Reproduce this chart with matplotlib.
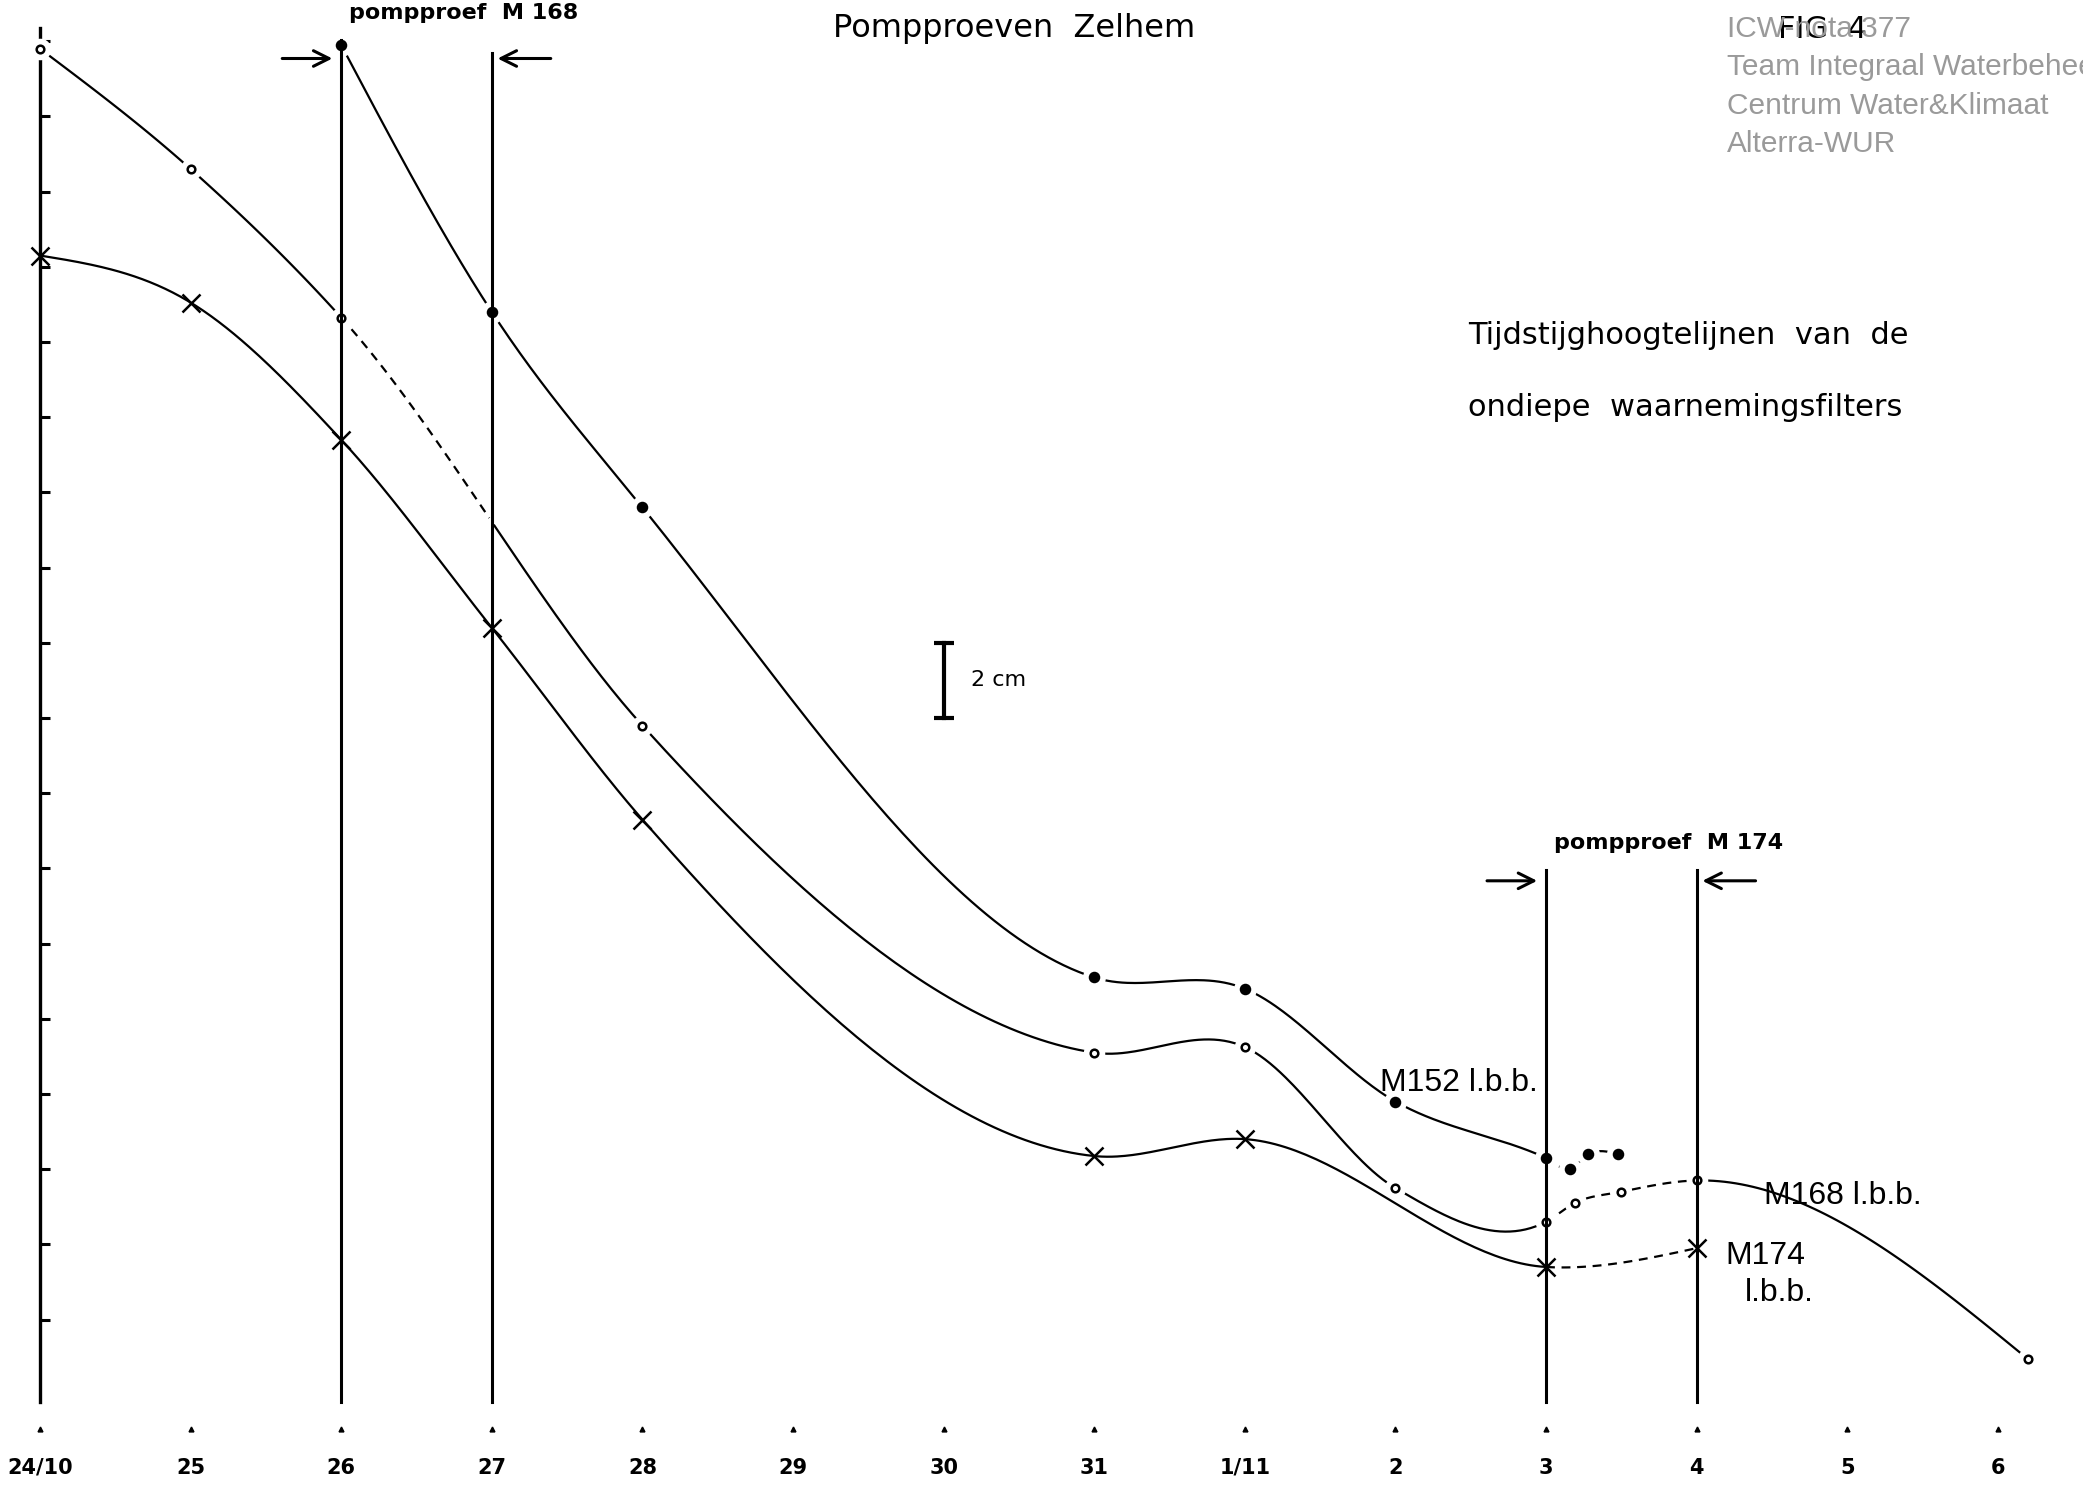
import matplotlib
matplotlib.use("Agg")
import matplotlib.pyplot as plt
import numpy as np

# datums langs de tijdas (dag 0 = 24 oktober)
days = ["24/10", "25", "26", "27", "28", "29", "30", "31", "1/11", "2", "3", "4", "5", "6"]

# stijghoogte in cm t.o.v. bovenkant schaal (negatief = dieper)
m152_t = [2, 3, 4, 7, 8, 9, 10, 10.16, 10.28, 10.48]
m152_h = [-0.1, -7.2, -12.4, -24.9, -25.2, -28.2, -29.7, -30.0, -29.6, -29.6]

m168_t = [0, 1, 2, 4, 7, 8, 9, 10, 10.19, 10.5, 11, 13.2]
m168_h = [-0.2, -3.4, -7.35, -18.2, -26.9, -26.75, -30.5, -31.4, -30.9, -30.6, -30.3, -35.05]

m174_t = [0, 1, 2, 3, 4, 7, 8, 10, 11]
m174_h = [-5.7, -6.95, -10.6, -15.6, -20.7, -29.65, -29.2, -32.6, -32.1]

# pompproeven (begin, eind) in dagen
pomp_m168 = (2, 3)
pomp_m174 = (10, 11)

W, H = 2083, 1488


def smooth(t, h, n=60):
    # cubic hermite door de meetpunten, parabolische eindcondities
    t = np.asarray(t, float)
    h = np.asarray(h, float)
    dt = np.diff(t)
    d = np.diff(h) / dt
    m = np.empty_like(h)
    m[1:-1] = (d[:-1] * dt[1:] + d[1:] * dt[:-1]) / (dt[1:] + dt[:-1])
    m[0] = (3 * d[0] - m[1]) / 2
    m[-1] = (3 * d[-1] - m[-2]) / 2
    xs, ys = [], []
    s = np.linspace(0, 1, n)
    for i in range(len(t) - 1):
        h00 = 2 * s**3 - 3 * s**2 + 1
        h10 = s**3 - 2 * s**2 + s
        h01 = -2 * s**3 + 3 * s**2
        h11 = s**3 - s**2
        xs.append(t[i] + s * dt[i])
        ys.append(h00 * h[i] + h10 * dt[i] * m[i] + h01 * h[i + 1] + h11 * dt[i] * m[i + 1])
    return np.concatenate(xs), np.concatenate(ys)


def draw_curve(ax, t, h, dashed, marker, ms, face, halo=True, dash=(0, (4, 3))):
    x, y = smooth(t, h)
    cuts = sorted({x[0], x[-1], *[v for iv in dashed for v in iv]})
    for lo, hi in zip(cuts[:-1], cuts[1:]):
        sel = (x >= lo - 1e-9) & (x <= hi + 1e-9)
        is_dash = any(lo >= a - 1e-9 and hi <= b + 1e-9 for a, b in dashed)
        ax.plot(x[sel], y[sel], color="k", lw=1.6, ls=dash if is_dash else "-",
                zorder=2, clip_on=False)
    if halo:
        ax.plot(t, h, ls="none", marker="o", ms=ms + 9, mfc="white", mec="white",
                zorder=3, clip_on=False)
    ax.plot(t, h, ls="none", marker=marker, ms=ms, mfc=face, mec="k", mew=1.8,
            zorder=4, clip_on=False)


fig = plt.figure(figsize=(W / 100, H / 100), dpi=100)
x0, px_day = 40, 150.6
y0, px_cm = 41.2, 37.6
xmax, ytop, ybot = 13.5, 0.35, -36.2
ax = fig.add_axes([x0 / W, (H - (y0 - ybot * px_cm)) / H,
                   xmax * px_day / W, (ytop - ybot) * px_cm / H])
ax.set_xlim(0, xmax)
ax.set_ylim(ybot, ytop)

for side in ["top", "right", "bottom"]:
    ax.spines[side].set_visible(False)
ax.spines["left"].set_linewidth(2.4)
ax.set_yticks(np.arange(0, -35, -2))
ax.set_yticklabels([])
ax.tick_params(axis="y", direction="in", length=7, width=2.2)
ax.set_xticks(range(len(days)))
ax.set_xticklabels(days, fontsize=15, fontweight="bold")
ax.tick_params(axis="x", length=0, pad=40)
ax.plot(range(len(days)), [-36.9] * len(days), ls="none", marker="^", ms=3.5,
        color="k", clip_on=False)

# curves
draw_curve(ax, m152_t, m152_h, [(10, 10.48)], "o", 6.5, "k")
draw_curve(ax, m168_t, m168_h, [pomp_m168, pomp_m174], "o", 5.5, "white")
draw_curve(ax, m174_t, m174_h, [pomp_m174], "x", 13, "k", halo=False)

# pompproef markeringen
for (a, b), top, ya, label in [(pomp_m168, (0.03, -0.32), -0.46, "pompproef  M 168"),
                               (pomp_m174, (-22.05, -22.05), -22.33, "pompproef  M 174")]:
    ax.plot([a, a], [top[0], ybot], color="k", lw=2.2, zorder=5, clip_on=False)
    ax.plot([b, b], [top[1], ybot], color="k", lw=2.2, zorder=5, clip_on=False)
    ax.annotate("", xy=(a - 0.04, ya), xytext=(a - 0.41, ya),
                arrowprops=dict(arrowstyle="->", lw=2.2, mutation_scale=28, color="k"),
                annotation_clip=False)
    ax.annotate("", xy=(b + 0.02, ya), xytext=(b + 0.41, ya),
                arrowprops=dict(arrowstyle="->", lw=2.2, mutation_scale=28, color="k"),
                annotation_clip=False)
    ax.text(a + 0.05, top[0] + 0.45, label, fontsize=16, fontweight="bold",
            ha="left", va="bottom", clip_on=False)

# schaalstreep 2 cm
ax.plot([6, 6], [-16, -18], color="k", lw=3, marker="_", ms=14, mew=3)
ax.text(6.18, -17, "2 cm", fontsize=16, va="center", ha="left")

# namen van de filters
ax.text(8.9, -27.7, "M152 l.b.b.", fontsize=23, family="Liberation Sans", va="center")
ax.text(11.45, -30.7, "M168 l.b.b.", fontsize=23, family="Liberation Sans", va="center")
ax.text(11.19, -32.3, "M174", fontsize=23, family="Liberation Sans", va="center")
ax.text(11.32, -33.3, "l.b.b.", fontsize=23, family="Liberation Sans", va="center")

# koppen
fig.text(1014 / W, 1 - 29 / H, "Pompproeven  Zelhem", fontsize=23, ha="center", va="center")
fig.text(1823 / W, 1 - 29 / H, "FIG  4", fontsize=22, ha="center", va="center")
fig.text(1468 / W, 1 - 335 / H, "Tijdstijghoogtelijnen  van  de", fontsize=22, ha="left", va="center")
fig.text(1468 / W, 1 - 408 / H, "ondiepe  waarnemingsfilters", fontsize=22, ha="left", va="center")

for i, line in enumerate(["ICW-nota 377", "Team Integraal Waterbeheer",
                          "Centrum Water&Klimaat", "Alterra-WUR"]):
    fig.text(1727 / W, 1 - (29 + 38.3 * i) / H, line, fontsize=21.5, color="#9a9a9a",
             family="Liberation Sans", ha="left", va="center")

fig.savefig("out.png", dpi=100, facecolor="white")
